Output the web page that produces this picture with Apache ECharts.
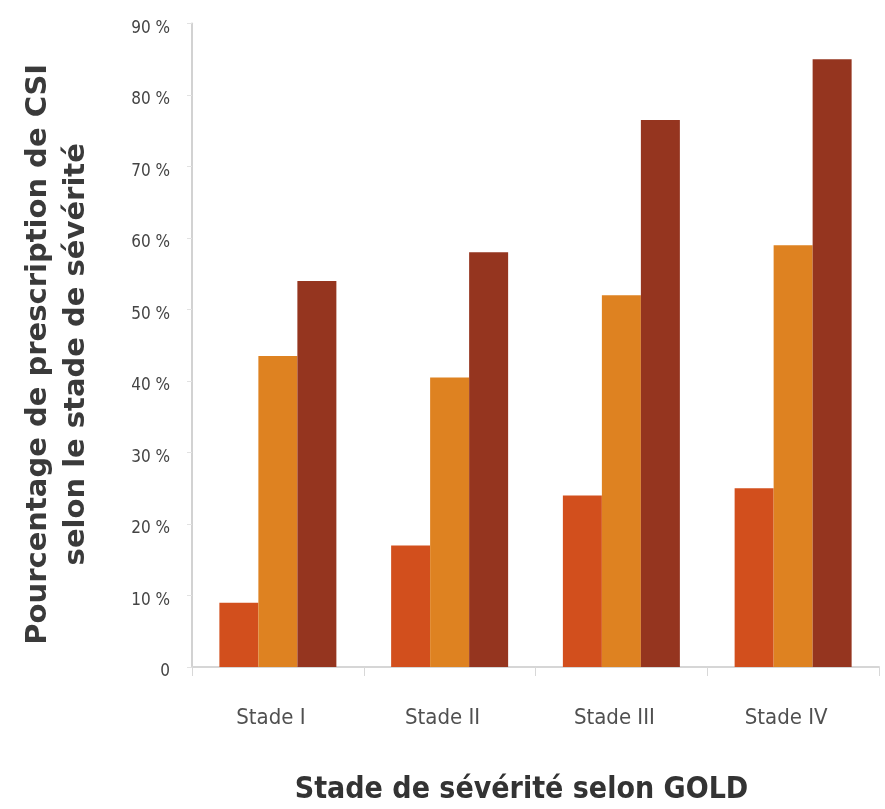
<!DOCTYPE html>
<html>
<head>
<meta charset="utf-8">
<script src="https://cdn.jsdelivr.net/npm/echarts@6/dist/echarts.min.js"></script>
<style>
  html, body { margin: 0; padding: 0; background: #ffffff; }
  #chart { width: 885px; height: 809px; }
</style>
</head>
<body>
<div id="chart"></div>
<script>
// GOLD severity stages
const stages = ['Stade I', 'Stade II', 'Stade III', 'Stade IV'];

// ICS prescription rate (%) per stage, three groups
const groupA = [9, 17, 24, 25];
const groupB = [43.5, 40.5, 52, 59];
const groupC = [54, 58, 76.5, 85];

// Y tick values
const yTicks = [0, 10, 20, 30, 40, 50, 60, 70, 80, 90];

const colors = ['#d24f1d', '#de8221', '#95351f'];

const narrow = '"Liberation Sans Narrow", "DejaVu Sans Condensed", "Liberation Sans", sans-serif';

const chart = echarts.init(document.getElementById('chart'), null, { renderer: 'canvas' });

const barBase = {
  type: 'bar',
  barWidth: 39,
  barGap: '0%',
  emphasis: { disabled: true }
};

chart.setOption({
  backgroundColor: '#ffffff',
  animation: false,
  grid: { left: 192, right: 6, top: 23.5, bottom: 142, containLabel: false, outerBoundsMode: 'none' },
  xAxis: {
    type: 'category',
    data: stages,
    axisLine: { show: true, lineStyle: { color: '#d6d6d6', width: 2 } },
    axisTick: { show: true, alignWithLabel: false, length: 9, lineStyle: { color: '#d8d8d8', width: 1 } },
    axisLabel: {
      margin: 40,
      fontFamily: narrow,
      fontSize: 22,
      color: '#505050',
      padding: [0, 14, 0, 0]
    },
    name: 'Stade de sévérité selon GOLD',
    nameLocation: 'middle',
    nameGap: 108,
    nameTextStyle: {
      fontFamily: narrow,
      fontSize: 30,
      fontWeight: 'bold',
      color: '#333333',
      padding: [0, 28, 0, 0]
    }
  },
  yAxis: {
    type: 'value',
    min: yTicks[0],
    max: yTicks[yTicks.length - 1],
    interval: 10,
    splitLine: { show: false },
    axisLine: { show: true, lineStyle: { color: '#d2d2d2', width: 2 } },
    axisTick: { show: true, length: 5, lineStyle: { color: '#e2e2e2' } },
    axisLabel: {
      margin: 22,
      verticalAlign: 'top',
      lineHeight: 10,
      fontFamily: narrow,
      fontSize: 17,
      color: '#444444',
      formatter: v => (v === 0 ? '0' : v + ' %')
    },
    name: 'Pourcentage de prescription de CSI\nselon le stade de sévérité',
    nameLocation: 'middle',
    nameRotate: 90,
    nameGap: 97,
    nameTextStyle: {
      fontFamily: '"DejaVu Sans", sans-serif',
      fontSize: 29,
      fontWeight: 'bold',
      lineHeight: 38,
      color: '#3a3a3a',
      align: 'center',
      padding: [0, 18, 0, 0]
    }
  },
  series: [
    Object.assign({}, barBase, { name: 'A', data: groupA, itemStyle: { color: colors[0] } }),
    Object.assign({}, barBase, { name: 'B', data: groupB, itemStyle: { color: colors[1] } }),
    Object.assign({}, barBase, { name: 'C', data: groupC, itemStyle: { color: colors[2] } })
  ]
});
</script>
</body>
</html>
